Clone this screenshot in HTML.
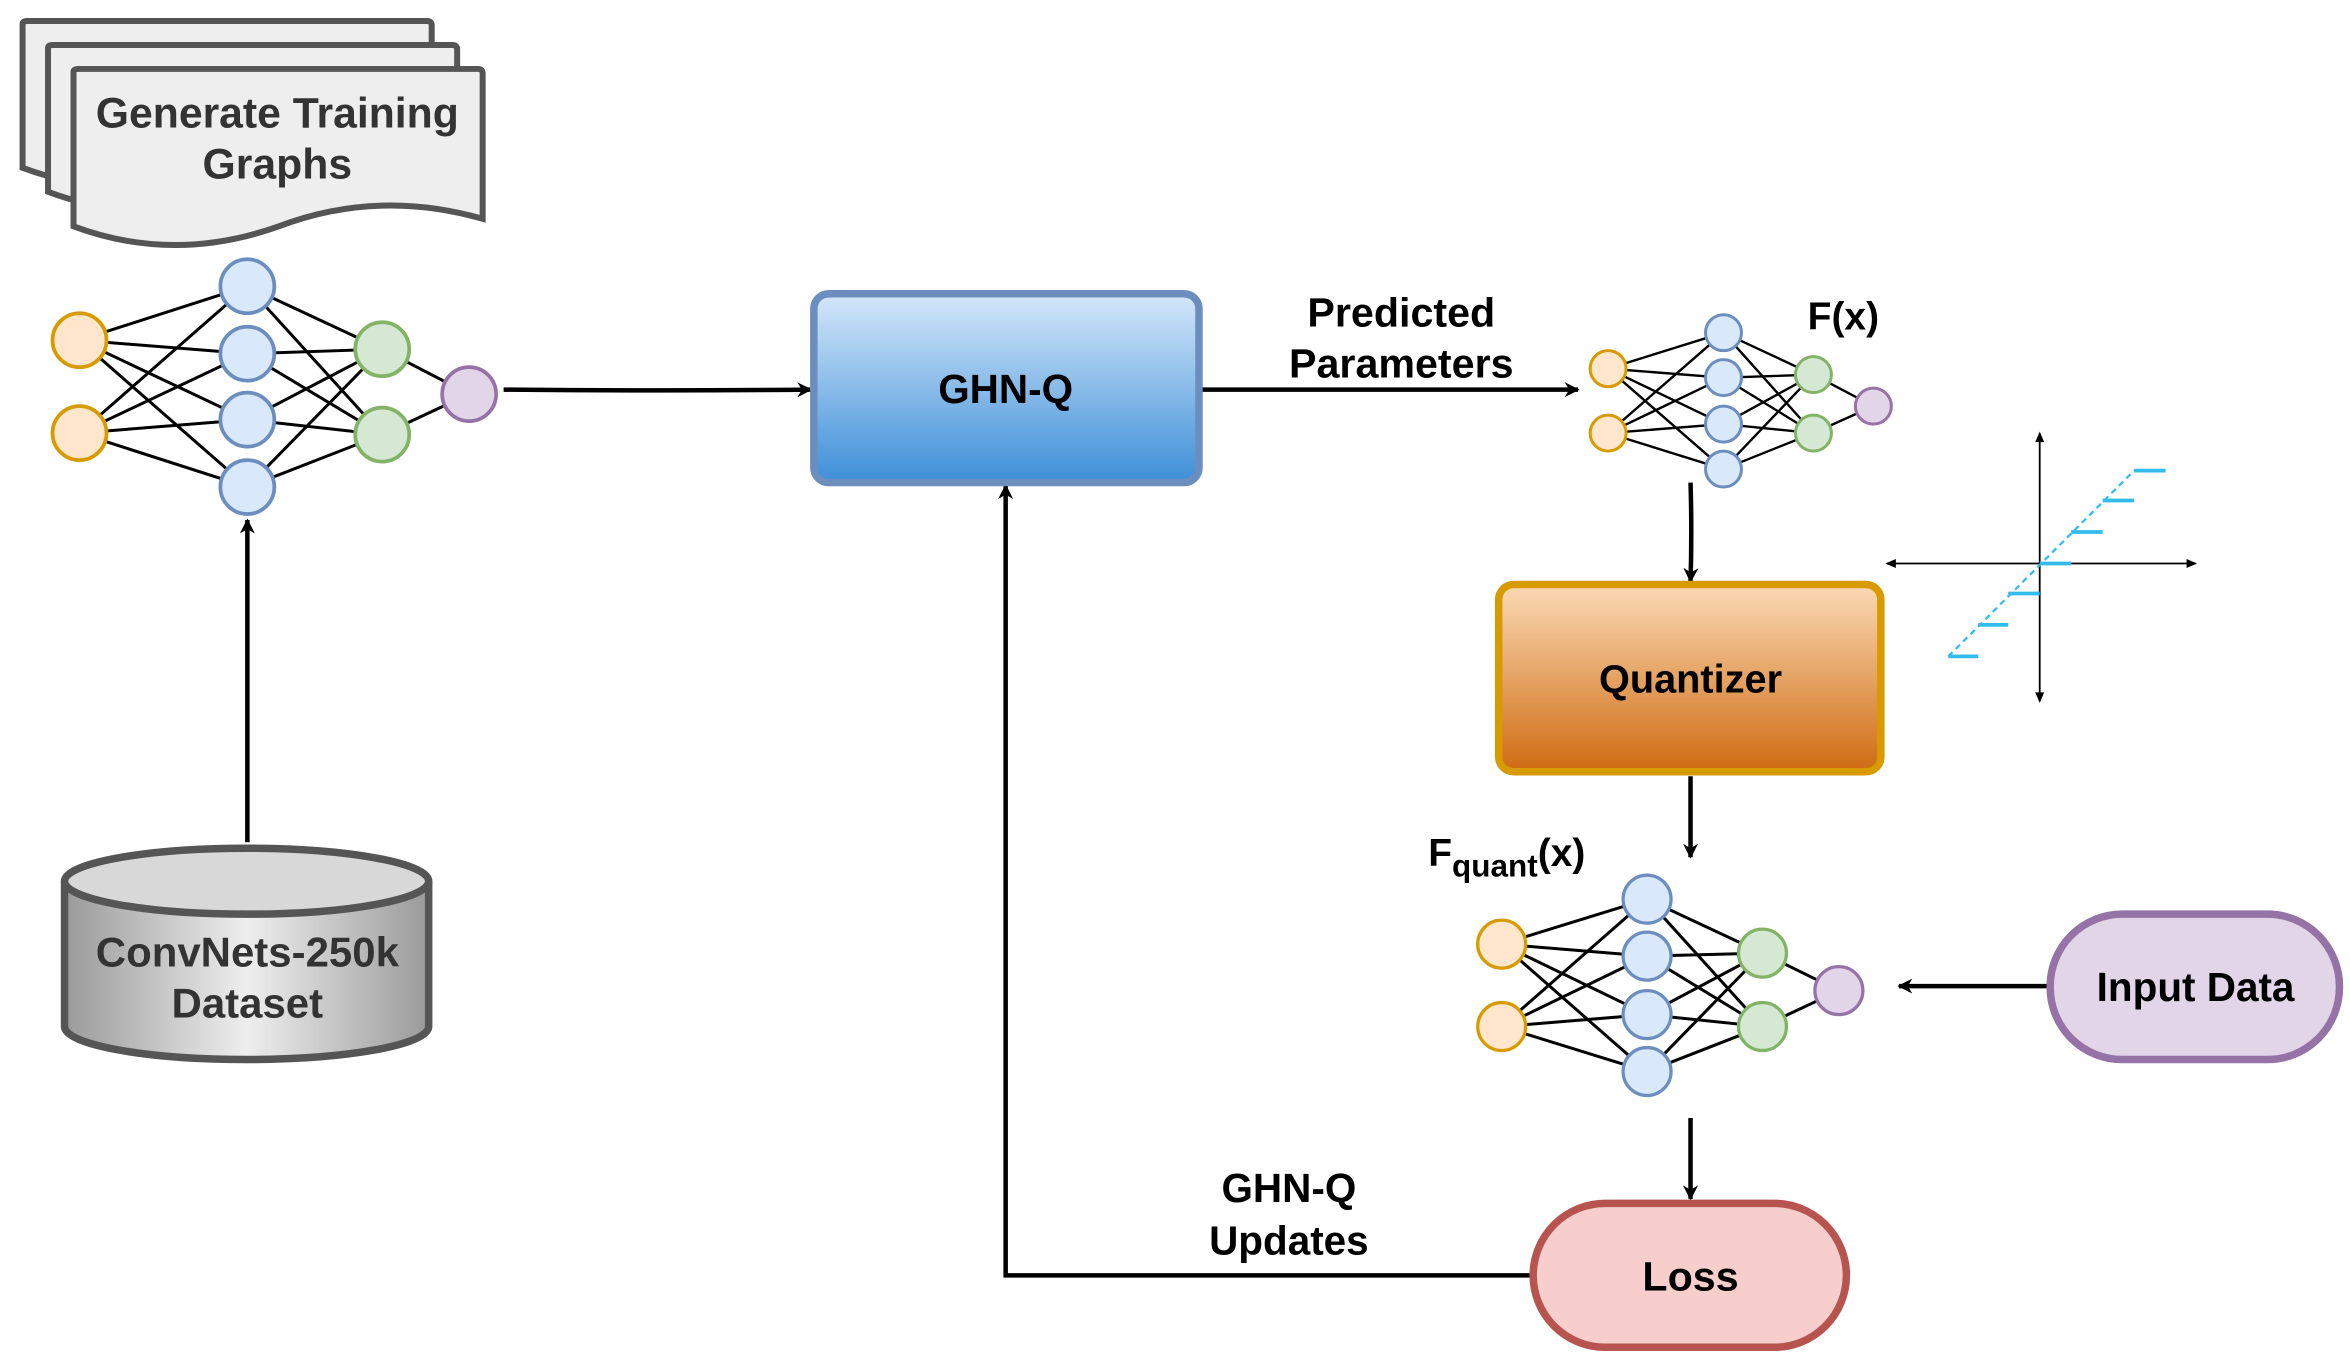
<!DOCTYPE html>
<html><head><meta charset="utf-8"><style>
html,body{margin:0;padding:0;background:#fff;}
svg{display:block;}
text{font-family:"Liberation Sans",sans-serif;font-weight:bold;}
</style></head><body>
<svg width="2350" height="1363" viewBox="0 0 1568 909.5" xmlns="http://www.w3.org/2000/svg">
<defs>
<linearGradient id="gb" x1="0" y1="0" x2="0" y2="1"><stop offset="0" stop-color="#d4e7fa"/><stop offset="1" stop-color="#3d8fd8"/></linearGradient>
<linearGradient id="go" x1="0" y1="0" x2="0" y2="1"><stop offset="0" stop-color="#fbdab5"/><stop offset="1" stop-color="#cf6b12"/></linearGradient>
<linearGradient id="gg" x1="0" y1="0" x2="1" y2="0"><stop offset="0" stop-color="#9a9a9a"/><stop offset="0.5" stop-color="#eeeeee"/><stop offset="1" stop-color="#9a9a9a"/></linearGradient>
<marker id="ar" markerWidth="10" markerHeight="10" refX="9" refY="5" orient="auto" markerUnits="userSpaceOnUse"><path d="M0,0 L10,5 L0,10 L3,5 z" fill="#000"/></marker>
</defs>

<g stroke="#555" stroke-width="4" fill="#eeeeee">
<path d="M15,16 q0,-2 3,-2 h267 q3,0 3,3 v85 q-70,-20 -136,10 q-70,25 -137,0 z"/>
<path d="M32,32 q0,-2 3,-2 h267 q3,0 3,3 v85 q-70,-20 -136,10 q-70,25 -137,0 z"/>
<path d="M49,48 q0,-2 3,-2 h267 q3,0 3,3 v97 q-70,-20 -136,5 q-70,25 -137,0 z"/>
</g>
<text x="185" y="85" font-size="28.5" fill="#333" text-anchor="middle">Generate Training</text>
<text x="185" y="119" font-size="28.5" fill="#333" text-anchor="middle">Graphs</text>

<g stroke="#000" stroke-width="2">
<path d="M53,227L165,191M53,227L165,236M53,227L165,280M53,227L165,325M53,289L165,191M53,289L165,236M53,289L165,280M53,289L165,325
M165,191L255,233M165,191L255,290M165,236L255,233M165,236L255,290M165,280L255,233M165,280L255,290M165,325L255,233M165,325L255,290
M255,233L313,263M255,290L313,263"/>
</g>
<g stroke-width="2.5">
<circle cx="53" cy="227" r="18" fill="#ffe6cc" stroke="#d79b00"/><circle cx="53" cy="289" r="18" fill="#ffe6cc" stroke="#d79b00"/>
<circle cx="165" cy="191" r="18" fill="#dae8fc" stroke="#6c8ebf"/><circle cx="165" cy="236" r="18" fill="#dae8fc" stroke="#6c8ebf"/>
<circle cx="165" cy="280" r="18" fill="#dae8fc" stroke="#6c8ebf"/><circle cx="165" cy="325" r="18" fill="#dae8fc" stroke="#6c8ebf"/>
<circle cx="255" cy="233" r="18" fill="#d5e8d4" stroke="#82b366"/><circle cx="255" cy="290" r="18" fill="#d5e8d4" stroke="#82b366"/>
<circle cx="313" cy="263" r="18" fill="#e1d5e7" stroke="#9673a6"/>
</g>

<g stroke="#000" stroke-width="3" fill="none" marker-end="url(#ar)">
<path d="M336,260 Q440,261 541,260"/>
<path d="M802,260 L1053,260"/>
<path d="M1128,322 Q1129,355 1128,388"/>
<path d="M1128,518 L1128,572"/>
<path d="M1366,658 L1267,658"/>
<path d="M1128,746 L1128,800"/>
<path d="M1021,851 L671,851 L671,324"/>
<path d="M165,562 L165,347"/>
</g>

<rect x="543" y="196" width="257" height="126" rx="10" fill="url(#gb)" stroke="#6c8ebf" stroke-width="5"/>
<text x="671" y="269" font-size="27" text-anchor="middle">GHN-Q</text>

<text x="935" y="218" font-size="27.5" text-anchor="middle">Predicted</text>
<text x="935" y="252" font-size="27.5" text-anchor="middle">Parameters</text>

<g stroke="#000" stroke-width="1.6">
<path d="M1073,246L1150,222M1073,246L1150,252M1073,246L1150,283M1073,246L1150,313M1073,289L1150,222M1073,289L1150,252M1073,289L1150,283M1073,289L1150,313
M1150,222L1210,250M1150,222L1210,289M1150,252L1210,250M1150,252L1210,289M1150,283L1210,250M1150,283L1210,289M1150,313L1210,250M1150,313L1210,289
M1210,250L1250,271M1210,289L1250,271"/>
</g>
<g stroke-width="2">
<circle cx="1073" cy="246" r="12" fill="#ffe6cc" stroke="#d79b00"/><circle cx="1073" cy="289" r="12" fill="#ffe6cc" stroke="#d79b00"/>
<circle cx="1150" cy="222" r="12" fill="#dae8fc" stroke="#6c8ebf"/><circle cx="1150" cy="252" r="12" fill="#dae8fc" stroke="#6c8ebf"/>
<circle cx="1150" cy="283" r="12" fill="#dae8fc" stroke="#6c8ebf"/><circle cx="1150" cy="313" r="12" fill="#dae8fc" stroke="#6c8ebf"/>
<circle cx="1210" cy="250" r="12" fill="#d5e8d4" stroke="#82b366"/><circle cx="1210" cy="289" r="12" fill="#d5e8d4" stroke="#82b366"/>
<circle cx="1250" cy="271" r="12" fill="#e1d5e7" stroke="#9673a6"/>
</g>
<text x="1230" y="220" font-size="26" text-anchor="middle">F(x)</text>

<rect x="1000" y="390" width="255" height="125" rx="10" fill="url(#go)" stroke="#d79b00" stroke-width="5"/>
<text x="1128" y="462" font-size="26.5" text-anchor="middle">Quantizer</text>

<g stroke="#000" stroke-width="1.2">
<line x1="1259" y1="376" x2="1465" y2="376"/>
<line x1="1361" y1="468" x2="1361" y2="289"/>
</g>
<g fill="#000">
<path d="M1258,376 l7,-3 v6 z"/>
<path d="M1466,376 l-7,-3 v6 z"/>
<path d="M1361,288 l-3,7 h6 z"/>
<path d="M1361,469 l-3,-7 h6 z"/>
</g>
<line x1="1300" y1="438" x2="1424" y2="314" stroke="#33bbee" stroke-width="1.5" stroke-dasharray="4,3"/>
<g stroke="#33bbee" stroke-width="2.5">
<line x1="1300" y1="438" x2="1320" y2="438"/><line x1="1320" y1="417" x2="1340" y2="417"/>
<line x1="1340" y1="396" x2="1361" y2="396"/><line x1="1361" y1="376" x2="1382" y2="376"/>
<line x1="1382" y1="355" x2="1403" y2="355"/><line x1="1403" y1="334" x2="1424" y2="334"/>
<line x1="1424" y1="314" x2="1445" y2="314"/>
</g>

<text x="953" y="578" font-size="26">F<tspan font-size="21" dy="7">quant</tspan><tspan dy="-7">(x)</tspan></text>

<g stroke="#000" stroke-width="2">
<path d="M1002,630L1099,600M1002,630L1099,638M1002,630L1099,677M1002,630L1099,715M1002,685L1099,600M1002,685L1099,638M1002,685L1099,677M1002,685L1099,715
M1099,600L1176,636M1099,600L1176,685M1099,638L1176,636M1099,638L1176,685M1099,677L1176,636M1099,677L1176,685M1099,715L1176,636M1099,715L1176,685
M1176,636L1227,661M1176,685L1227,661"/>
</g>
<g stroke-width="2.2">
<circle cx="1002" cy="630" r="16" fill="#ffe6cc" stroke="#d79b00"/><circle cx="1002" cy="685" r="16" fill="#ffe6cc" stroke="#d79b00"/>
<circle cx="1099" cy="600" r="16" fill="#dae8fc" stroke="#6c8ebf"/><circle cx="1099" cy="638" r="16" fill="#dae8fc" stroke="#6c8ebf"/>
<circle cx="1099" cy="677" r="16" fill="#dae8fc" stroke="#6c8ebf"/><circle cx="1099" cy="715" r="16" fill="#dae8fc" stroke="#6c8ebf"/>
<circle cx="1176" cy="636" r="16" fill="#d5e8d4" stroke="#82b366"/><circle cx="1176" cy="685" r="16" fill="#d5e8d4" stroke="#82b366"/>
<circle cx="1227" cy="661" r="16" fill="#e1d5e7" stroke="#9673a6"/>
</g>

<rect x="1368" y="610" width="193" height="97" rx="48" fill="#e1d5e7" stroke="#9673a6" stroke-width="5"/>
<text x="1465" y="668" font-size="27" text-anchor="middle">Input Data</text>

<rect x="1023" y="803" width="209" height="96" rx="48" fill="#f8cecc" stroke="#b85450" stroke-width="5"/>
<text x="1128" y="861" font-size="27.5" text-anchor="middle">Loss</text>

<text x="860" y="802" font-size="27" text-anchor="middle">GHN-Q</text>
<text x="860" y="837" font-size="27" text-anchor="middle">Updates</text>

<path d="M43,588 L43,685 A121.5,22 0 0 0 286,685 L286,588" fill="url(#gg)" stroke="#555" stroke-width="5"/>
<ellipse cx="164.5" cy="588" rx="121.5" ry="22" fill="#d8d8d8" stroke="#555" stroke-width="5"/>
<text x="165" y="645" font-size="28" fill="#333" text-anchor="middle">ConvNets-250k</text>
<text x="165" y="679" font-size="28" fill="#333" text-anchor="middle">Dataset</text>
</svg>
</body></html>
